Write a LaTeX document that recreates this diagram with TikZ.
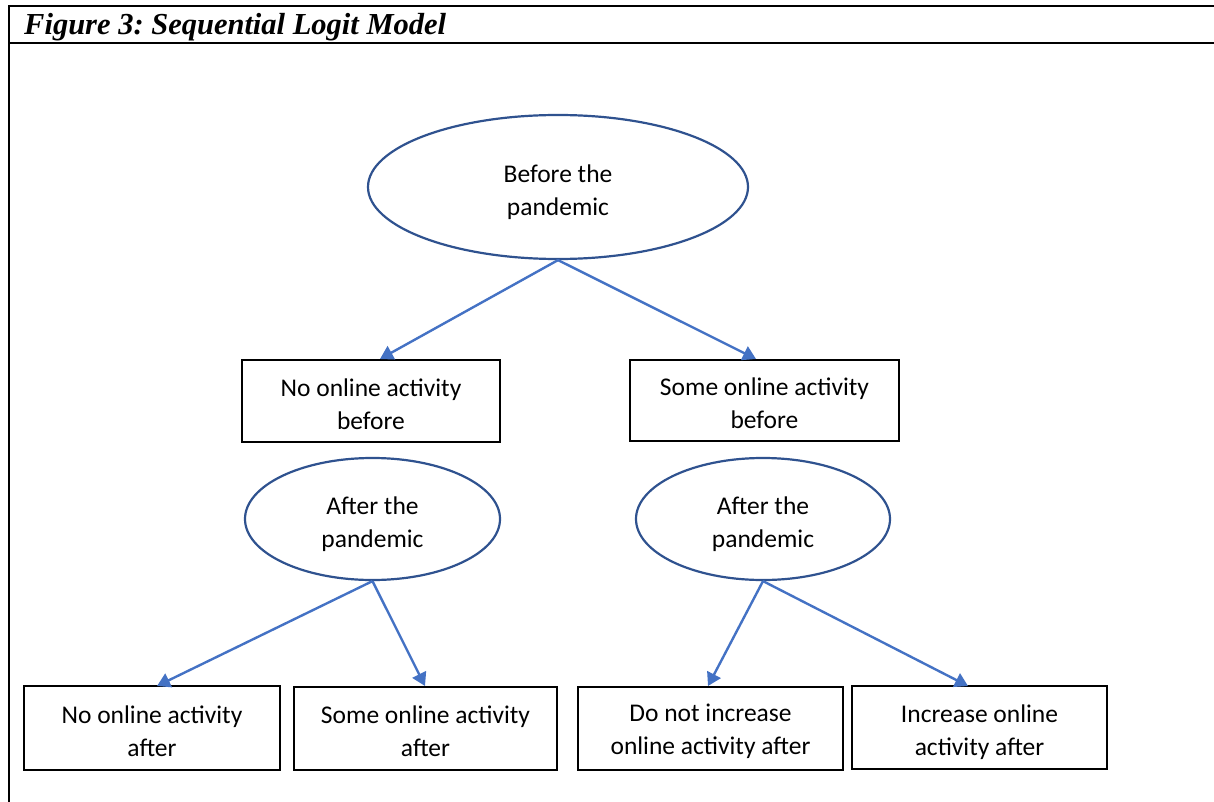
\documentclass[tikz,border=0pt]{standalone}
\usepackage{fontspec}
\setmainfont{Carlito}
\newfontfamily\titlefont{Liberation Serif}
\usetikzlibrary{shapes.geometric,arrows.meta}
\definecolor{arrowblue}{HTML}{4472C4}
\definecolor{ellblue}{HTML}{2F528F}
\frenchspacing
\newcommand\ellup{\rule{0pt}{28pt}}
\newcommand\boxup{\rule{0pt}{24pt}}
\tikzset{
  ell/.style={ellipse, draw=ellblue, line width=2.2pt, inner sep=0pt, align=center, font=\fontsize{25.5}{33}\selectfont},
  box/.style={rectangle, draw=black, line width=1.3pt, inner sep=0pt, align=center, font=\fontsize{25.5}{33}\selectfont},
  arr/.style={draw=arrowblue, line width=2.4pt, -{Triangle[length=13pt,width=15pt]}},
  frame/.style={draw=black, line width=2.4pt}
}
\begin{document}
\begin{tikzpicture}[x=1pt,y=-1pt]
\useasboundingbox (0,0) rectangle (1214,802);
% frame
\coordinate (fTL) at (9,6);
\coordinate (fTR) at (1216,6);
\coordinate (fML) at (9,43);
\coordinate (fMR) at (1216,43);
\coordinate (fBL) at (9,804);
\draw[frame] (fTR) -- (fTL) -- (fBL);
\draw[frame] (fML) -- (fMR);
\node[anchor=base west, font=\titlefont\bfseries\itshape\fontsize{30.5}{34}\selectfont, inner sep=0pt] (title) at (24,35) {Figure 3: Sequential Logit Model};
% nodes
\node[ell, minimum width=380pt, minimum height=144pt] (top) at (558,187) {\ellup Before the\\pandemic};
\node[box, minimum width=258pt, minimum height=82pt] (l1) at (371,401) {\boxup No online activity\\before};
\node[box, minimum width=269pt, minimum height=81pt] (r1) at (764.5,400.5) {\boxup Some online activity\\before};
\node[ell, minimum width=255pt, minimum height=122pt] (l2) at (372.5,519) {\ellup After the\\pandemic};
\node[ell, minimum width=254pt, minimum height=122pt] (r2) at (763,519) {\ellup After the\\pandemic};
\node[box, minimum width=256pt, minimum height=84pt] (b1) at (152,728) {\boxup No online activity\\after};
\node[box, minimum width=263pt, minimum height=83pt] (b2) at (425.5,728.5) {\boxup Some online activity\\after};
\node[box, minimum width=265pt, minimum height=83pt] (b3) at (710.5,728.5) {\boxup Do not increase\\online activity after};
\node[box, minimum width=255pt, minimum height=83pt] (b4) at (979.5,727.5) {\ellup Increase online\\activity after};
% connectors
\coordinate (tl1) at (380,359);
\coordinate (tr1) at (756,359);
\coordinate (tb1) at (157,686);
\coordinate (tb2) at (425,686);
\coordinate (tb3) at (708,686);
\coordinate (tb4) at (968,686);
\draw[arr] (top.south) -- (tl1);
\draw[arr] (top.south) -- (tr1);
\draw[arr] (l2.south) -- (tb1);
\draw[arr] (l2.south) -- (tb2);
\draw[arr] (r2.south) -- (tb3);
\draw[arr] (r2.south) -- (tb4);
\end{tikzpicture}
\end{document}
